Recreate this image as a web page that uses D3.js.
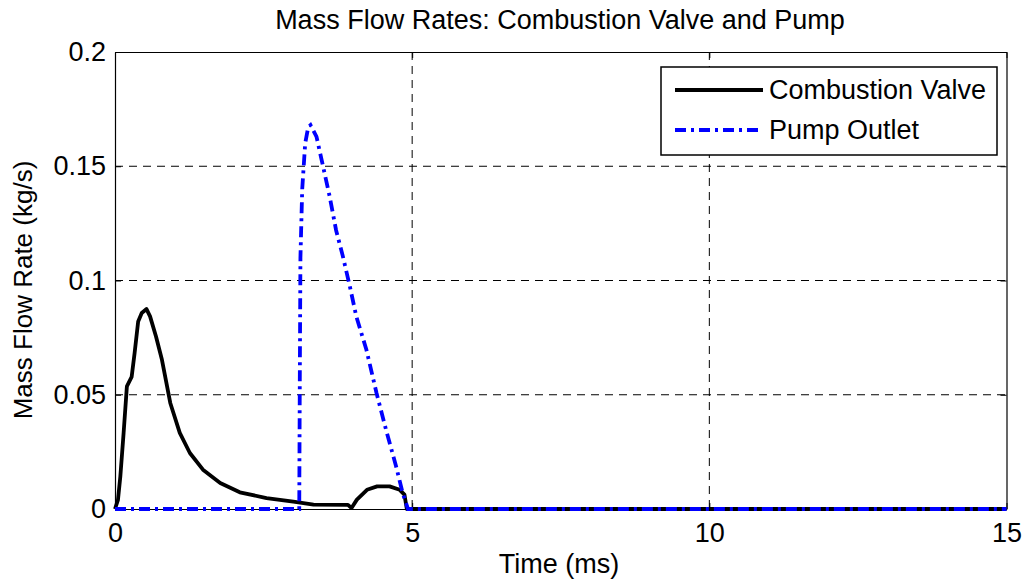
<!DOCTYPE html>
<html lang="en">
<head>
    <meta charset="UTF-8">
    <title>Mass Flow Rates: Combustion Valve and Pump</title>
    <script src="https://d3js.org/d3.v7.min.js"></script>
    <style>
        body { margin: 0; background: #fff; }
        svg { display: block; font-family: "Liberation Sans", Arial, sans-serif; }
    </style>
    <script>
        const chartTitle = "Mass Flow Rates: Combustion Valve and Pump";
        const xLabel = "Time (ms)";
        const yLabel = "Mass Flow Rate (kg/s)";
        const seriesNames = ["Combustion Valve", "Pump Outlet"];

        const xTicks = [0, 5, 10, 15];
        const yTicks = [0, 0.05, 0.1, 0.15, 0.2];

        // combustion valve
        const valveTime = [0, 0.05, 0.09, 0.145, 0.2, 0.28, 0.33, 0.39, 0.45, 0.53, 0.59, 0.69, 0.79, 0.93, 1.09, 1.26,
            1.48, 1.77, 2.1, 2.55, 3.0, 3.34, 3.92, 3.98, 4.07, 4.24, 4.41, 4.62, 4.79, 4.87, 4.91, 15];
        const valveFlow = [0, 0.004, 0.0143, 0.0333, 0.0537, 0.0578, 0.0683, 0.0821, 0.0858, 0.0875, 0.0843, 0.0755, 0.0653,
            0.0464, 0.0333, 0.0245, 0.0172, 0.0114, 0.0073, 0.0048, 0.0032, 0.0019, 0.0018, 0.0004, 0.0041, 0.0084,
            0.0099, 0.0099, 0.0084, 0.0063, 0, 0];

        // pump outlet
        const pumpTime = [0, 3.1, 3.11, 3.12, 3.15, 3.2, 3.25, 3.29, 3.33, 3.39, 3.5, 3.61, 3.72, 3.83, 3.95, 4.06,
            4.23, 4.4, 4.56, 4.73, 4.84, 4.93, 15];
        const pumpFlow = [0, 0, 0.06, 0.11, 0.14, 0.16, 0.167, 0.168, 0.166, 0.163, 0.15, 0.137, 0.122, 0.111, 0.0976,
            0.0843, 0.0697, 0.0508, 0.0347, 0.0186, 0.007, 0, 0];

        function drawChart() {
            const width = 1026, height = 582;
            const margins = {top: 52, right: 19.5, bottom: 73, left: 115};
            const w = width - margins.left - margins.right;
            const h = height - margins.top - margins.bottom;

            const svg = d3.select("svg").attr("width", width).attr("height", height);
            svg.append("rect").attr("width", width).attr("height", height).attr("fill", "#fff");

            const g = svg.append("g").attr("transform", "translate(" + margins.left + "," + margins.top + ")");

            const x = d3.scaleLinear().domain([0, 15]).range([0, w]);
            const y = d3.scaleLinear().domain([0, 0.2]).range([h, 0]);

            // grid
            g.append("g").selectAll("line").data(xTicks.slice(1, -1)).enter().append("line")
                .attr("x1", d => x(d)).attr("x2", d => x(d)).attr("y1", 0).attr("y2", h)
                .attr("stroke", "#000").attr("stroke-width", 1).attr("stroke-dasharray", "8,6");
            g.append("g").selectAll("line").data(yTicks.slice(1, -1)).enter().append("line")
                .attr("x1", 0).attr("x2", w).attr("y1", d => y(d)).attr("y2", d => y(d))
                .attr("stroke", "#000").attr("stroke-width", 1).attr("stroke-dasharray", "8,6");

            // axes, ticks inward like matlab
            const fmtY = d => d === 0 ? "0" : String(d);
            const bottomAxis = g.append("g").attr("transform", "translate(0," + h + ")")
                .call(d3.axisBottom(x).tickValues(xTicks).tickSize(-6).tickPadding(14).tickSizeOuter(0));
            g.append("g")
                .call(d3.axisLeft(y).tickValues(yTicks).tickFormat(fmtY).tickSize(-6).tickPadding(9).tickSizeOuter(0));
            g.append("g").call(d3.axisTop(x).tickValues(xTicks).tickSize(-6).tickFormat("").tickSizeOuter(0));
            g.append("g").attr("transform", "translate(" + w + ",0)")
                .call(d3.axisRight(y).tickValues(yTicks).tickSize(-6).tickFormat("").tickSizeOuter(0));

            g.selectAll(".domain").attr("stroke", "#000").attr("stroke-width", 1.2);
            g.selectAll(".tick line").attr("stroke", "#000");
            g.selectAll(".tick text").attr("font-size", 27).attr("font-family", "Liberation Sans, Arial, sans-serif")
                .attr("fill", "#000");
            bottomAxis.selectAll(".tick text").attr("dy", "0.71em");

            // data lines
            const line = d3.line().x(d => x(d[0])).y(d => y(d[1]));
            const valveData = valveTime.map((t, i) => [t, valveFlow[i]]);
            const pumpData = pumpTime.map((t, i) => [t, pumpFlow[i]]);

            g.append("path").datum(valveData).attr("d", line)
                .attr("fill", "none").attr("stroke", "#000").attr("stroke-width", 3.8).attr("stroke-linejoin", "round");
            g.append("path").datum(pumpData).attr("d", line)
                .attr("fill", "none").attr("stroke", "#0000ff").attr("stroke-width", 3.8)
                .attr("stroke-dasharray", "11,5,3,5");

            // title and labels
            svg.append("text").attr("x", 560).attr("y", 29).attr("text-anchor", "middle")
                .attr("font-size", 27).text(chartTitle);
            svg.append("text").attr("x", 559).attr("y", 573).attr("text-anchor", "middle")
                .attr("font-size", 27).text(xLabel);
            svg.append("text").attr("transform", "translate(32,290) rotate(-90)").attr("text-anchor", "middle")
                .attr("font-size", 26).text(yLabel);

            // legend
            const legend = svg.append("g");
            legend.append("rect").attr("x", 661).attr("y", 67).attr("width", 336).attr("height", 88)
                .attr("fill", "#fff").attr("stroke", "#000").attr("stroke-width", 1.5);
            const styles = [{color: "#000", dash: null}, {color: "#0000ff", dash: "11,5,3,5"}];
            seriesNames.forEach(function (name, i) {
                const yy = 90 + i * 40;
                legend.append("line").attr("x1", 675).attr("x2", 763).attr("y1", yy).attr("y2", yy)
                    .attr("stroke", styles[i].color).attr("stroke-width", 3.8)
                    .attr("stroke-dasharray", styles[i].dash);
                legend.append("text").attr("x", 769).attr("y", yy).attr("dy", "0.35em")
                    .attr("font-size", 27).text(name);
            });
        }

        document.addEventListener("DOMContentLoaded", drawChart);
    </script>
</head>
<body>
    <svg></svg>
</body>
</html>
